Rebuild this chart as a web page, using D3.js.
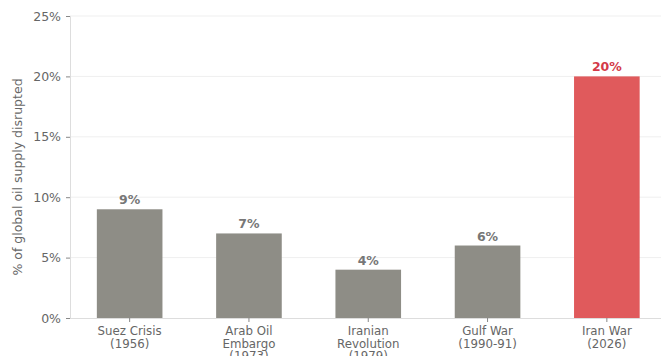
<!DOCTYPE html>
<html>
<head>
<meta charset="utf-8">
<script src="https://cdn.jsdelivr.net/npm/d3@7"></script>
<style>
  body { margin: 0; background: #fff; }
  svg { display: block; font-family: "DejaVu Sans", sans-serif; }
</style>
</head>
<body>
<svg class="target" width="661" height="356"></svg>
<script>
const categories = [
  ["Suez Crisis", "(1956)"],
  ["Arab Oil", "Embargo", "(1973)"],
  ["Iranian", "Revolution", "(1979)"],
  ["Gulf War", "(1990-91)"],
  ["Iran War", "(2026)"]
];
const values = [9, 7, 4, 6, 20];
const highlight = [false, false, false, false, true];
const yTicks = [0, 5, 10, 15, 20, 25];

const svg = d3.select(".target");
const plotLeft = 70, plotTop = 16, plotBottom = 318;

const y = d3.scaleLinear().domain([0, 25]).range([plotBottom, plotTop]);
const x = d3.scaleBand()
  .domain(d3.range(categories.length))
  .range([plotLeft, plotLeft + 5 * 119.3])
  .paddingInner(0.45)
  .paddingOuter(0.225);

// grid
svg.append("g")
  .selectAll("line")
  .data(yTicks.slice(1))
  .enter()
  .append("line")
  .attr("x1", plotLeft)
  .attr("x2", 661)
  .attr("y1", (d) => y(d))
  .attr("y2", (d) => y(d))
  .attr("stroke", "#efefef")
  .attr("stroke-width", 1);

// bars
svg.append("g")
  .selectAll("rect")
  .data(values)
  .enter()
  .append("rect")
  .attr("x", (d, i) => x(i))
  .attr("y", (d) => y(d))
  .attr("width", x.bandwidth())
  .attr("height", (d) => plotBottom - y(d))
  .attr("fill", (d, i) => (highlight[i] ? "#e05a5c" : "#8e8d86"));

// value labels
svg.append("g")
  .selectAll("text")
  .data(values)
  .enter()
  .append("text")
  .attr("x", (d, i) => x(i) + x.bandwidth() / 2)
  .attr("y", (d) => y(d) - 5)
  .attr("text-anchor", "middle")
  .attr("font-size", 12.5)
  .attr("font-weight", "bold")
  .attr("fill", (d, i) => (highlight[i] ? "#d33a48" : "#777"))
  .text((d) => d + "%");

// y axis
const yAxis = svg.append("g")
  .attr("transform", `translate(${plotLeft},0)`)
  .call(d3.axisLeft(y).tickValues(yTicks).tickFormat((d) => d + "%").tickSize(4).tickPadding(5));
yAxis.select(".domain").attr("stroke", "#ddd");
yAxis.selectAll(".tick line").attr("stroke", "#888");
yAxis.selectAll("text").attr("fill", "#666").attr("font-size", 12.5).attr("font-family", "DejaVu Sans");

// x axis
const xAxis = svg.append("g")
  .attr("transform", `translate(0,${plotBottom})`)
  .call(d3.axisBottom(x).tickSize(4).tickFormat(""));
xAxis.select(".domain").attr("stroke", "#ddd").attr("d", `M${plotLeft},0.5H661`);
xAxis.selectAll(".tick line").attr("stroke", "#888");

svg.append("g")
  .selectAll("text")
  .data(categories)
  .enter()
  .append("text")
  .attr("x", (d, i) => x(i) + x.bandwidth() / 2)
  .attr("y", plotBottom + 17)
  .attr("text-anchor", "middle")
  .attr("font-size", 11.8)
  .attr("fill", "#666")
  .selectAll("tspan")
  .data((d) => d)
  .enter()
  .append("tspan")
  .attr("x", function () { return d3.select(this.parentNode).attr("x"); })
  .attr("dy", (d, i) => (i === 0 ? 0 : 12.5))
  .text((d) => d);

// y label
svg.append("text")
  .attr("transform", `translate(22,${(plotTop + plotBottom) / 2 + 10}) rotate(-90)`)
  .attr("text-anchor", "middle")
  .attr("font-size", 12.5)
  .attr("fill", "#666")
  .text("% of global oil supply disrupted");
</script>
</body>
</html>
